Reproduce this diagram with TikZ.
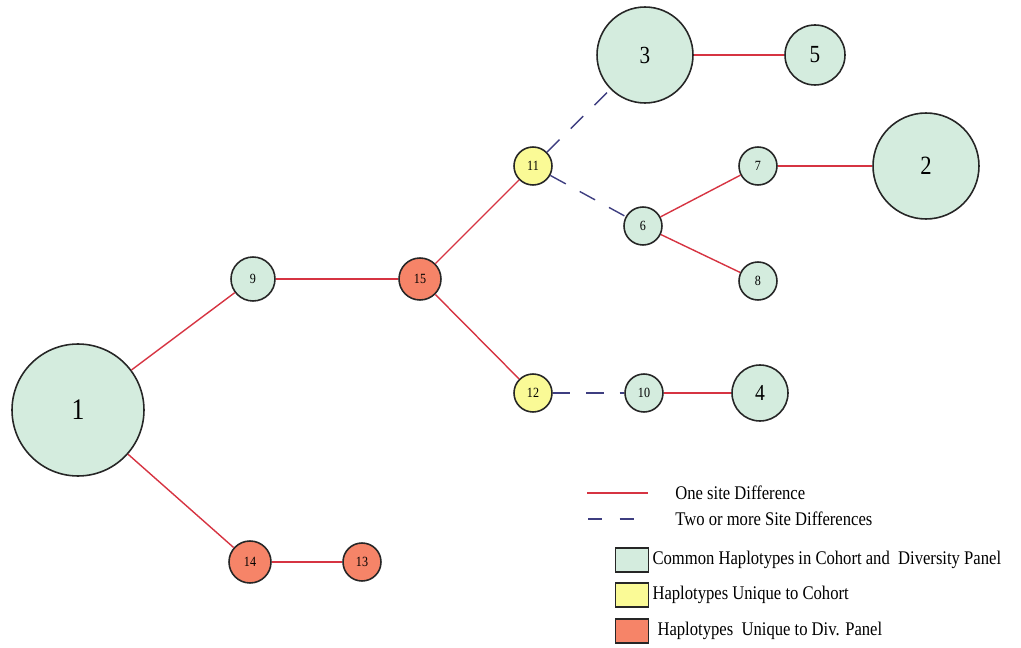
\documentclass[tikz,border=0pt]{standalone}
\usepackage{fontspec}
\setmainfont{Liberation Serif}[FakeStretch=0.86]
\usepackage{tikz}
\usepackage{xcolor}
\usetikzlibrary{positioning}
\definecolor{cCommon}{RGB}{212,236,222}
\definecolor{cCohort}{RGB}{250,250,150}
\definecolor{cDiv}{RGB}{246,132,104}
\definecolor{cOne}{RGB}{214,52,66}
\definecolor{cTwo}{RGB}{62,62,128}
\tikzset{
    hap/.style    ={circle, draw=black!85, line width=0.9pt, inner sep=0pt, font=\fontsize{8}{9}\selectfont},
    common/.style ={hap, fill=cCommon},
    cohort/.style ={hap, fill=cCohort},
    divpanel/.style={hap, fill=cDiv},
    onesite/.style={draw=cOne, line width=0.8pt},
    twosite/.style={draw=cTwo, line width=0.8pt, dash pattern=on 10pt off 9pt},
    keybox/.style ={rectangle, draw=black!85, line width=0.8pt, minimum width=0.66cm, minimum height=0.48cm, inner sep=0pt},
    keytext/.style={anchor=west, inner sep=0pt, font=\fontsize{11}{13}\selectfont},
}

\begin{document}
\begin{tikzpicture}[x=0.02cm, y=-0.02cm]
        \useasboundingbox (0,0) rectangle (1021,648);
        % haplotypes
        \node[common, minimum size=2.64cm, font=\fontsize{17}{19}\selectfont] (h1) at (78,410) {1};
        \node[common, minimum size=0.88cm] (h9) at (253,279) {9};
        \node[divpanel, minimum size=0.84cm] (h15) at (420,279) {15};
        \node[cohort, minimum size=0.76cm] (h11) at (533,166) {11};
        \node[cohort, minimum size=0.76cm] (h12) at (533,393) {12};
        \node[common, minimum size=1.92cm, font=\fontsize{14}{16}\selectfont] (h3) at (645,55) {3};
        \node[common, minimum size=1.2cm, font=\fontsize{14}{16}\selectfont] (h5) at (815,55) {5};
        \node[common, minimum size=0.76cm] (h6) at (643,226) {6};
        \node[common, minimum size=0.76cm] (h7) at (758,166) {7};
        \node[common, minimum size=0.76cm] (h8) at (758,281) {8};
        \node[common, minimum size=2.12cm, font=\fontsize{15}{17}\selectfont] (h2) at (926,166) {2};
        \node[common, minimum size=0.76cm] (h10) at (644,393) {10};
        \node[common, minimum size=1.12cm, font=\fontsize{13}{15}\selectfont] (h4) at (760,393) {4};
        \node[divpanel, minimum size=0.84cm] (h14) at (250,562) {14};
        \node[divpanel, minimum size=0.76cm] (h13) at (362,562) {13};

        % links
        \draw[onesite] (h1) -- (h9);
        \draw[onesite] (h1) -- (h14);
        \draw[onesite] (h14) -- (h13);
        \draw[onesite] (h9) -- (h15);
        \draw[onesite] (h15) -- (h11);
        \draw[onesite] (h15) -- (h12);
        \draw[twosite] (h11) -- (h3);
        \draw[twosite] (h11) -- (h6);
        \draw[onesite] (h6) -- (h7);
        \draw[onesite] (h6) -- (h8);
        \draw[onesite] (h7) -- (h2);
        \draw[onesite] (h3) -- (h5);
        \draw[twosite] (h12) -- (h10);
        \draw[onesite] (h10) -- (h4);

        % legend
        \coordinate (l1a) at (587,493);
        \coordinate (l1b) at (648,493);
        \coordinate (l2a) at (588,519);
        \coordinate (l2b) at (642,519);
        \draw[onesite] (l1a) -- (l1b);
        \draw[draw=cTwo, line width=0.8pt, dash pattern=on 8pt off 10pt] (l2a) -- (l2b);
        \node[keytext] (t1) at (675,493) {One site Difference};
        \node[keytext] (t2) at (675,519) {Two or more Site Differences};
        \node[keybox, fill=cCommon] (k1) at (632,560) {};
        \node[keybox, fill=cCohort] (k2) at (632,595) {};
        \node[keybox, fill=cDiv] (k3) at (632,631) {};
        \node[keytext, right=0.06cm of k1] (t3) {Common Haplotypes in Cohort and\ \ Diversity Panel};
        \node[keytext, right=0.06cm of k2] (t4) {Haplotypes Unique to Cohort};
        \node[keytext, right=0.16cm of k3] (t5) {Haplotypes\ \ Unique to Div. Panel};
    \end{tikzpicture}
\end{document}
